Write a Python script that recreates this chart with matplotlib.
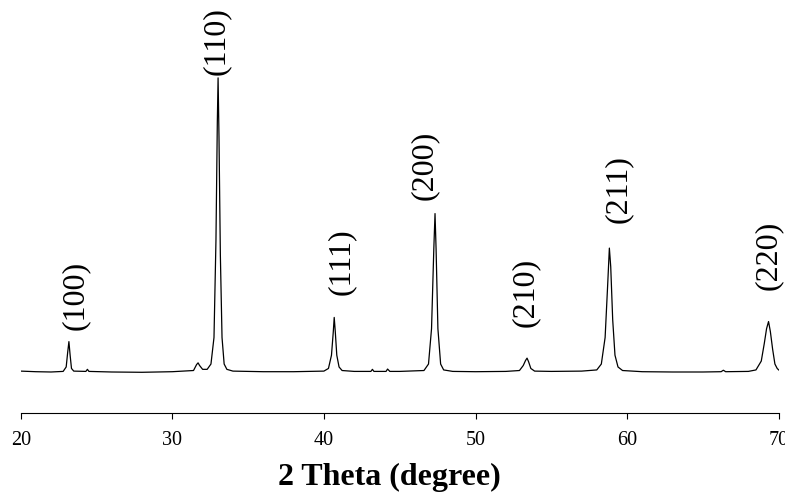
import matplotlib
matplotlib.use("Agg")
import matplotlib.pyplot as plt

# XRD trace: 2 theta (degree) and relative intensity ((110) = 100)
two_theta = [20.0, 21.0, 22.0, 22.8, 23.0, 23.1, 23.18, 23.26, 23.35, 23.5,
             24.3, 24.4, 24.5, 26.0, 28.0, 30.0, 31.4, 31.6, 31.7, 31.8,
             32.0, 32.3, 32.55, 32.75, 32.88, 32.97, 33.02, 33.08, 33.17, 33.28,
             33.42, 33.6, 34.0, 36.0, 38.0, 40.0, 40.3, 40.5, 40.62, 40.68,
             40.75, 40.85, 41.0, 41.2, 42.0, 43.1, 43.2, 43.3, 44.1, 44.2,
             44.35, 45.0, 46.6, 46.9, 47.1, 47.25, 47.33, 47.4, 47.52, 47.7,
             47.9, 48.5, 50.0, 52.0, 52.9, 53.15, 53.3, 53.4, 53.5, 53.65,
             53.9, 55.0, 57.0, 58.0, 58.3, 58.55, 58.72, 58.83, 58.92, 59.05,
             59.2, 59.4, 59.7, 61.0, 63.0, 65.0, 66.2, 66.35, 66.5, 68.0,
             68.5, 68.85, 69.05, 69.2, 69.33, 69.45, 69.6, 69.75, 69.9, 70.0]
intensity = [0.6, 0.4, 0.3, 0.5, 2.0, 7.0, 10.6, 6.0, 1.5, 0.6,
             0.5, 1.2, 0.5, 0.3, 0.2, 0.4, 0.8, 2.8, 3.4, 2.5,
             1.2, 1.2, 3.0, 12.0, 45.0, 85.0, 100.0, 80.0, 40.0, 12.0,
             3.0, 1.2, 0.6, 0.4, 0.4, 0.6, 1.5, 6.0, 14.0, 18.8,
             14.0, 6.0, 2.0, 0.8, 0.5, 0.5, 1.2, 0.5, 0.5, 1.3,
             0.5, 0.5, 0.8, 3.0, 15.0, 42.0, 54.0, 42.0, 15.0, 3.0,
             1.0, 0.5, 0.4, 0.5, 0.8, 2.5, 4.2, 5.0, 3.8, 1.5,
             0.6, 0.5, 0.6, 1.0, 3.0, 12.0, 30.0, 42.3, 36.0, 18.0,
             6.0, 2.0, 0.8, 0.4, 0.3, 0.3, 0.4, 0.9, 0.4, 0.5,
             1.0, 4.0, 10.0, 15.0, 17.4, 14.0, 8.0, 3.0, 1.5, 1.0]

# peak labels: text, x position, bottom of the text (same units as intensity)
peak_names = ["(100)", "(110)", "(111)", "(200)", "(210)", "(211)", "(220)"]
peak_x = [23.58, 32.93, 41.17, 46.6, 53.27, 59.4, 69.3]
peak_y = [14.6, 101.0, 26.4, 58.6, 15.6, 50.8, 28.1]

x_ticks = [20, 30, 40, 50, 60, 70]

serif = ["Liberation Serif", "DejaVu Serif"]
plt.rcParams["font.family"] = serif

fig = plt.figure(figsize=(7.85, 4.95), dpi=100)
ax = fig.add_axes([20.7 / 785, 82 / 495, 758 / 785, 413 / 495])

ax.plot(two_theta, intensity, color="black", lw=0.9)

for name, px, py in zip(peak_names, peak_x, peak_y):
    ax.text(px, py, name, rotation=90, ha="center", va="bottom", fontsize=23)

ax.set_xlim(20, 70)
ax.set_ylim(-13.6, 126.4)
ax.set_xticks(x_ticks)
ax.set_xticklabels([str(t) for t in x_ticks], fontsize=14.5)
ax.tick_params(axis="x", direction="out", length=4, width=0.8, pad=9)
ax.set_yticks([])
for side in ["left", "right", "top"]:
    ax.spines[side].set_visible(False)
ax.spines["bottom"].set_linewidth(0.8)

ax.set_xlabel("2 Theta (degree)", fontsize=23, fontweight="bold")
ax.xaxis.set_label_coords((389 - 20.7) / 758, -0.12)

fig.savefig("out.png", dpi=100)
